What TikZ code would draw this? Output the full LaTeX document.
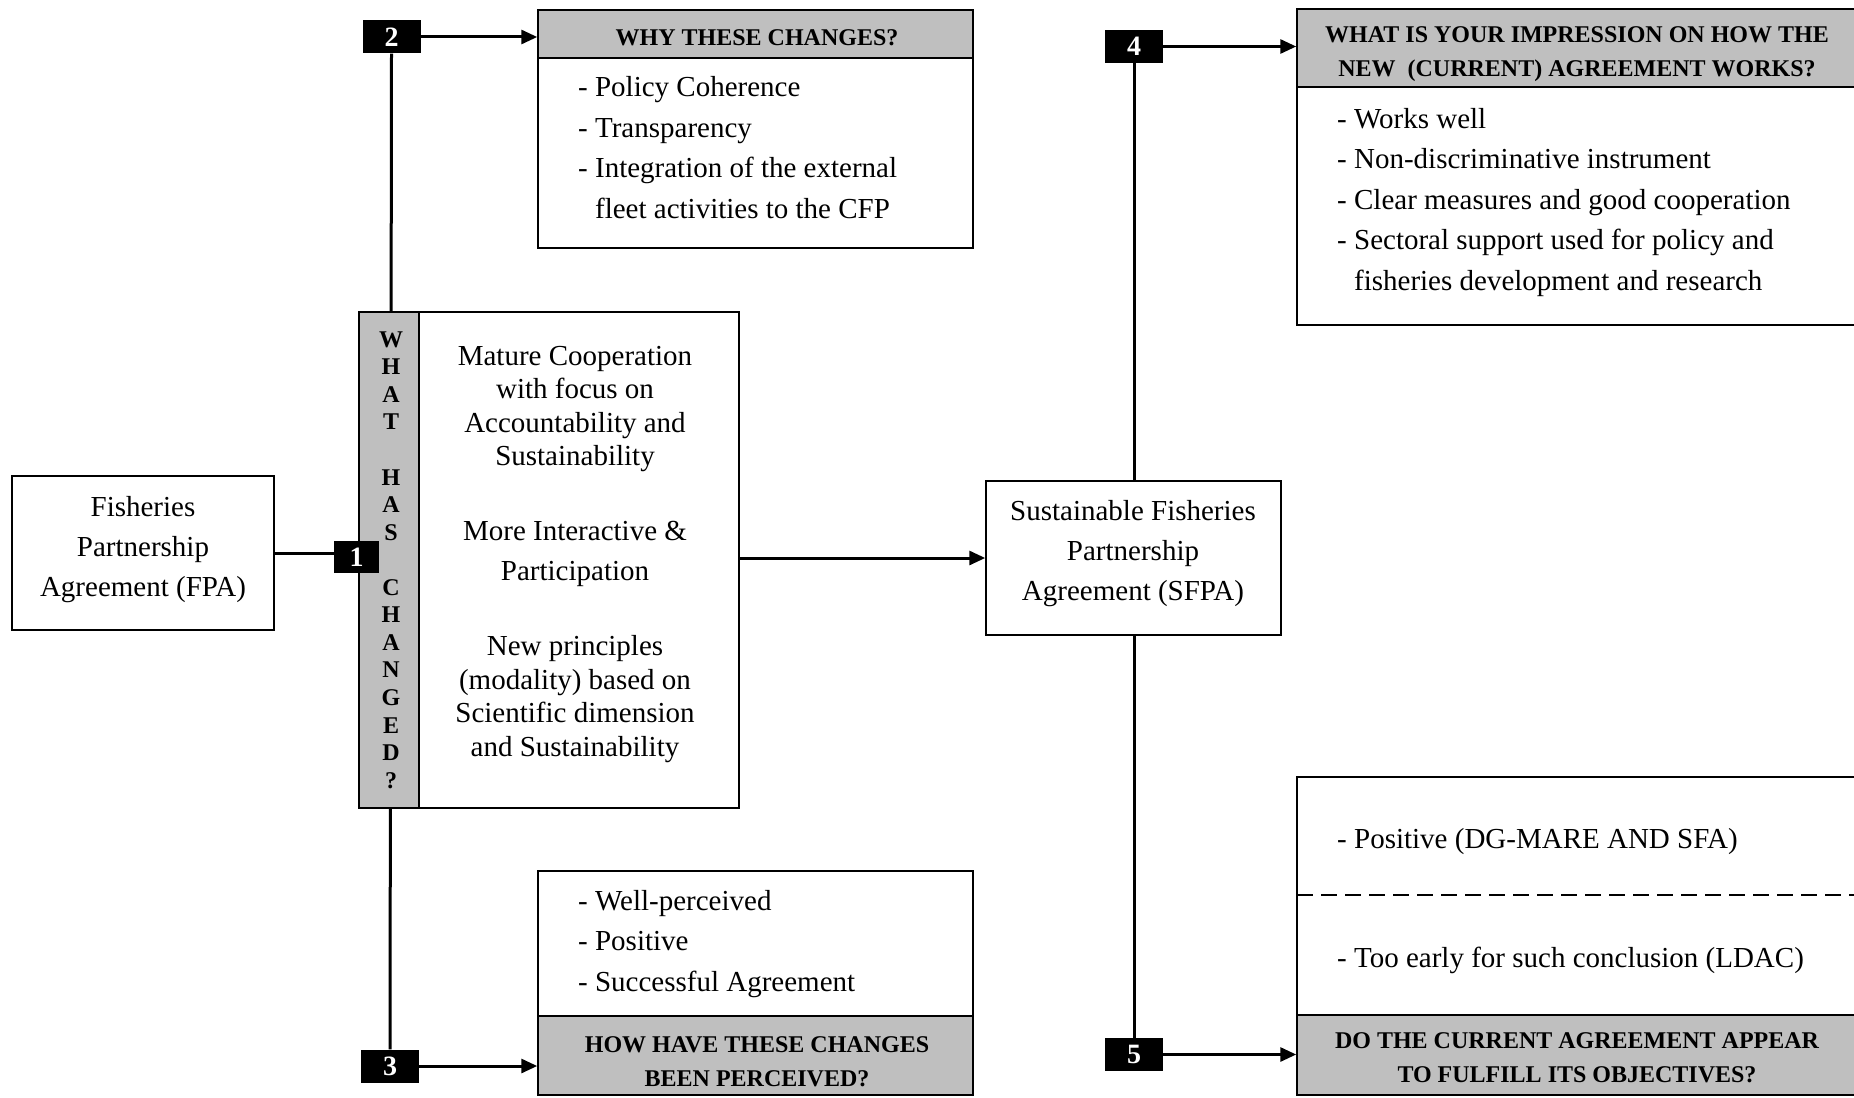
\documentclass[tikz,border=0pt]{standalone}
\usepackage{fontspec}
\setmainfont{Liberation Serif}
\usetikzlibrary{arrows.meta,backgrounds}
\definecolor{hdrgray}{RGB}{191,191,191}
\tikzset{
  box/.style={draw=black, line width=1.5pt, fill=white, inner sep=0pt},
  hdr/.style={draw=black, line width=1.5pt, fill=hdrgray, inner sep=0pt},
  hdrtxt/.style={font=\bfseries\fontsize{24}{34}\selectfont, align=center, inner sep=0pt},
  numbox/.style={fill=black, text=white, font=\bfseries\fontsize{28}{28}\selectfont, minimum width=58pt, minimum height=33pt, inner sep=0pt},
  body/.style={font=\fontsize{29}{40.5}\selectfont, align=left, inner sep=0pt, anchor=base west},
  ctext/.style={font=\fontsize{29}{33.6}\selectfont, align=center, inner sep=0pt},
  conn/.style={line width=3pt},
  arr/.style={conn, -{Triangle[length=16pt,width=14pt]}},
}
\begin{document}
\begin{tikzpicture}[x=1pt,y=-1pt]
\useasboundingbox (0,0) rectangle (1854,1097);

% Left: FPA
\node[box, minimum width=262pt, minimum height=154pt] (fpa) at (143,553) {};
\node[ctext, font=\fontsize{29}{40}\selectfont] (fpatxt) at (143,550) {Fisheries\\Partnership\\Agreement (FPA)};

% Gray bar and content
\node[hdr, minimum width=60pt, minimum height=496pt] (bar) at (389,560) {};
\node[inner sep=0pt, font=\bfseries\fontsize{24}{27.56}\selectfont, align=center] (bartxt) at (391,560)
  {W\\H\\A\\T\\~\\H\\A\\S\\~\\C\\H\\A\\N\\G\\E\\D\\?};
\node[box, minimum width=320pt, minimum height=496pt] (content) at (579,560) {};
\node[ctext] (c1) at (575,409) {Mature Cooperation\\with focus on\\Accountability and\\Sustainability};
\node[ctext, font=\fontsize{29}{40}\selectfont] (c2) at (575,554) {More Interactive \&\\Participation};
\node[ctext] (c3) at (575,699) {New principles\\(modality) based on\\Scientific dimension\\and Sustainability};

\node[numbox, minimum width=45pt, minimum height=32pt] (b1) at (356.5,557) {1};

% WHY box
\node[box, minimum width=435pt, minimum height=238pt] (why) at (755.5,129) {};
\node[hdr, minimum width=435pt, minimum height=48pt] (whyh) at (755.5,34) {};
\node[hdrtxt] (whyt) at (757,38) {WHY THESE CHANGES?};
\node[body] (whyb) at (578,218) {- Policy Coherence\\- Transparency\\- Integration of the external\\\phantom{- }fleet activities to the CFP};

% HOW box
\node[box, minimum width=435pt, minimum height=224pt] (how) at (755.5,983) {};
\node[hdr, minimum width=435pt, minimum height=79pt] (howh) at (755.5,1055.5) {};
\node[hdrtxt] (howt) at (757,1062) {HOW HAVE THESE CHANGES\\BEEN PERCEIVED?};
\node[body] (howb) at (578,991) {- Well-perceived\\- Positive\\- Successful Agreement};

\node[numbox] (b2) at (391.5,37) {2};
\node[numbox] (b3) at (390,1066) {3};

% SFPA
\node[box, minimum width=295pt, minimum height=154pt] (sfpa) at (1133.5,558) {};
\node[ctext, font=\fontsize{29}{40}\selectfont] (sfpatxt) at (1133,554) {Sustainable Fisheries\\Partnership\\Agreement (SFPA)};

% WHAT box
\node[box, minimum width=561pt, minimum height=316pt] (what) at (1577.5,167) {};
\node[hdr, minimum width=561pt, minimum height=78pt] (whath) at (1577.5,48) {};
\node[hdrtxt] (whatt) at (1577,54) {WHAT IS YOUR IMPRESSION ON HOW THE\\NEW\ \ (CURRENT) AGREEMENT WORKS?};
\node[body] (whatb) at (1337,290) {- Works well\\- Non-discriminative instrument\\- Clear measures and good cooperation\\- Sectoral support used for policy and\\\phantom{- }fisheries development and research};

% DO box
\node[box, minimum width=561pt, minimum height=318pt] (do) at (1577.5,936) {};
\node[hdr, minimum width=561pt, minimum height=80pt] (doh) at (1577.5,1055) {};
\node[hdrtxt] (dot) at (1577,1058) {DO THE CURRENT AGREEMENT APPEAR\\TO FULFILL ITS OBJECTIVES?};
\node[body] (do1) at (1337,848) {- Positive (DG-MARE AND SFA)};
\node[body] (do2) at (1337,967) {- Too early for such conclusion (LDAC)};
\coordinate (dl) at (1297,895);
\coordinate (dr) at (1858,895);
\draw[line width=1.3pt, dash pattern=on 16pt off 8pt] (dl) -- (dr);

\node[numbox] (b4) at (1134,46.5) {4};
\node[numbox] (b5) at (1134,1054.5) {5};

% connectors
\begin{pgfonlayer}{background}
\draw[conn] (b2.south) -- (b3.north);
\draw[conn] (b4.south) -- (b5.north);
\end{pgfonlayer}
\draw[conn] (fpa.east) -- (fpa.east -| b1.west);
\draw[arr] (b2.east) -- (b2.east -| whyh.west);
\draw[arr] (b3.east) -- (b3.east -| howh.west);
\draw[arr] (content.east |- sfpa.west) -- (sfpa.west);
\draw[arr] (b4.east) -- (b4.east -| whath.west);
\draw[arr] (b5.east) -- (b5.east -| doh.west);
\end{tikzpicture}
\end{document}
